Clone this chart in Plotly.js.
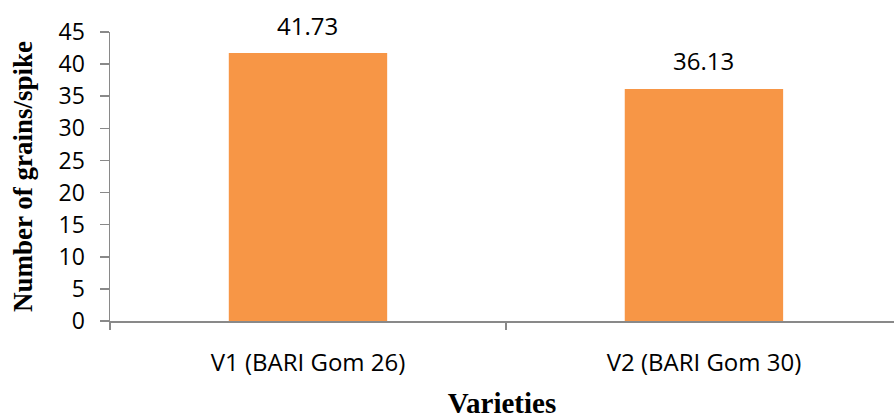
<!DOCTYPE html>
<html>
<head>
<meta charset="utf-8">
<script src="https://cdn.plot.ly/plotly-3.0.1.min.js"></script>
<style>
  html, body { margin: 0; padding: 0; background: #ffffff; }
  #chart { width: 894px; height: 419px; }
</style>
</head>
<body>
<div id="chart"></div>
<script>
// Grains per spike for the two wheat varieties
const varieties = ["V1 (BARI Gom 26)", "V2 (BARI Gom 30)"];
const grainsPerSpike = [41.73, 36.13];
const valueLabels = ["41.73", "36.13"];
const yTicks = [0, 5, 10, 15, 20, 25, 30, 35, 40, 45];

const axisGrey = "#898989";
const sansFont = "Open Sans, sans-serif";
const serifFont = "Liberation Serif, Times New Roman, serif";

const trace = {
  type: "bar",
  x: varieties,
  y: grainsPerSpike,
  width: 0.4,
  marker: { color: "#F79646", line: { width: 0 } },
  hoverinfo: "skip"
};

// value labels sit above each bar
const annotations = varieties.map((v, i) => ({
  x: v,
  y: grainsPerSpike[i],
  xref: "x",
  yref: "y",
  text: valueLabels[i],
  showarrow: false,
  yanchor: "middle",
  xanchor: "center",
  yshift: 28,
  font: { family: sansFont, size: 24, color: "#000000" }
}));

const layout = {
  width: 894,
  height: 419,
  margin: { l: 110, r: 0, t: 32, b: 98 },
  paper_bgcolor: "#ffffff",
  plot_bgcolor: "#ffffff",
  showlegend: false,
  xaxis: {
    type: "category",
    range: [-0.5, 1.48],
    showline: true,
    linecolor: axisGrey,
    linewidth: 1.5,
    ticks: "outside",
    tickson: "boundaries",
    ticklen: 7,
    tickwidth: 1.5,
    tickcolor: axisGrey,
    showgrid: false,
    zeroline: false,
    ticklabelstandoff: 20,
    tickfont: { family: sansFont, size: 24, color: "#000000" },
    title: {
      text: "<b>Varieties</b>",
      font: { family: serifFont, size: 29, color: "#000000" },
      standoff: 24
    }
  },
  yaxis: {
    range: [0, 45],
    tickvals: yTicks,
    showline: true,
    linecolor: axisGrey,
    linewidth: 1.5,
    ticks: "outside",
    ticklen: 9,
    tickwidth: 1.5,
    tickcolor: axisGrey,
    showgrid: false,
    zeroline: false,
    ticklabelstandoff: 10,
    tickfont: { family: sansFont, size: 23, color: "#000000" },
    title: {
      text: "<b>Number of grains/spike</b>",
      font: { family: serifFont, size: 27, color: "#000000" },
      standoff: 18
    }
  },
  annotations: annotations
};

Plotly.newPlot("chart", [trace], layout, { displayModeBar: false, staticPlot: true });
</script>
</body>
</html>
